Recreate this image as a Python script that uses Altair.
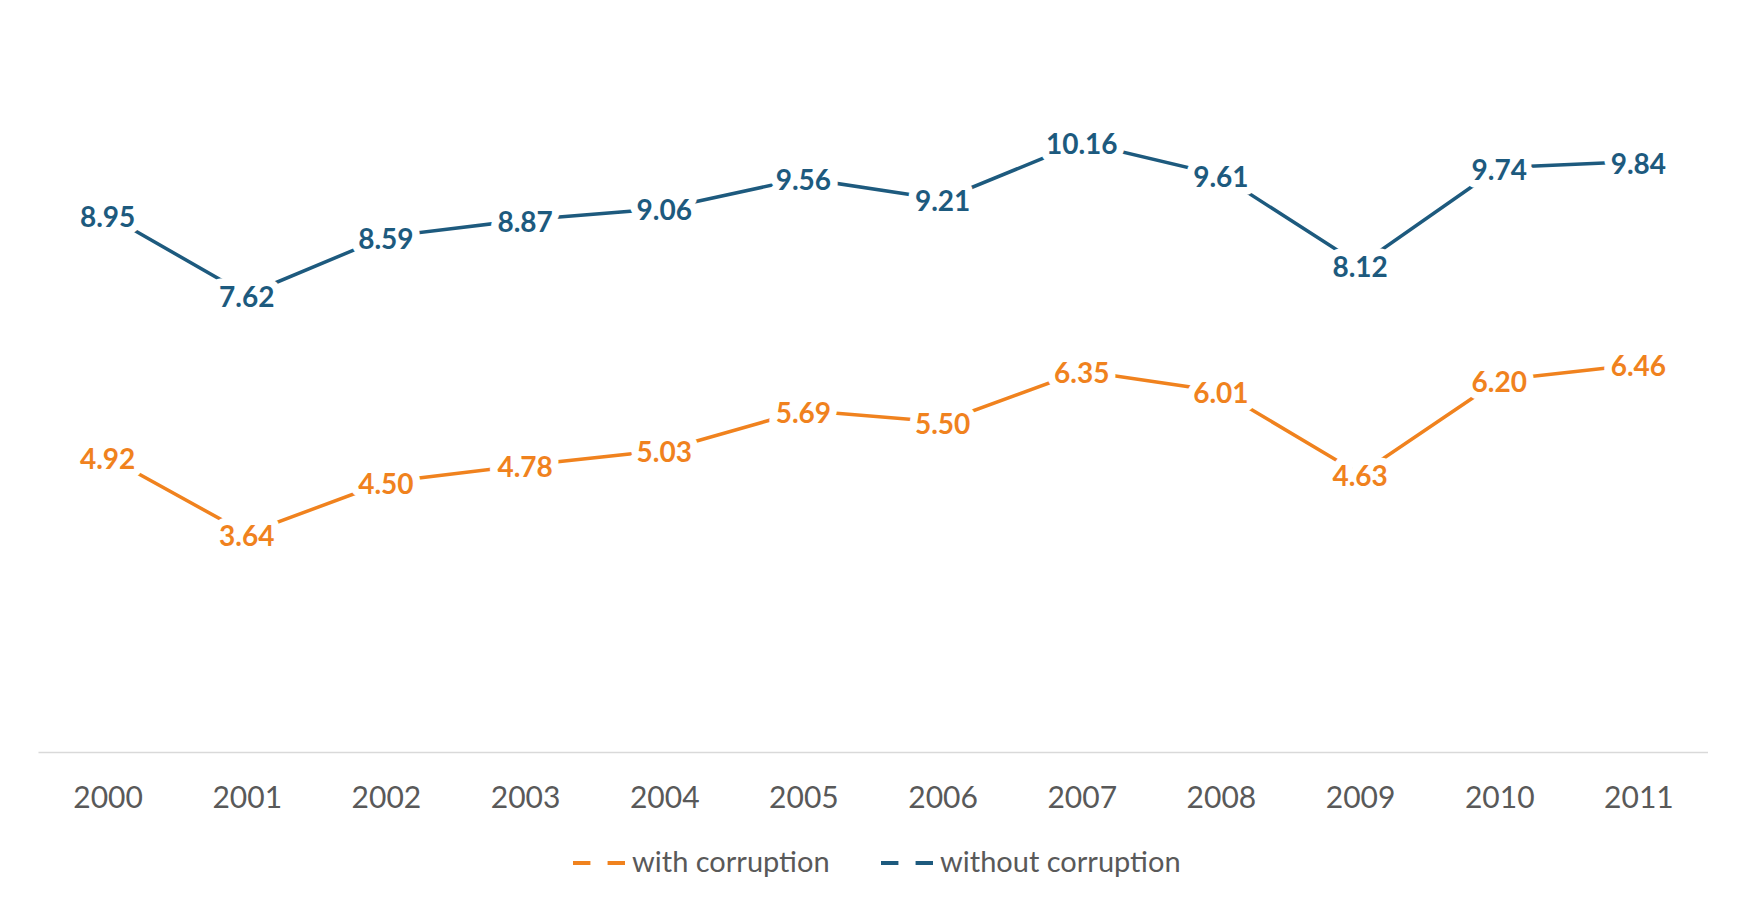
import altair as alt
import pandas as pd

years = ["2000", "2001", "2002", "2003", "2004", "2005",
         "2006", "2007", "2008", "2009", "2010", "2011"]
with_corruption = [4.92, 3.64, 4.50, 4.78, 5.03, 5.69, 5.50, 6.35, 6.01, 4.63, 6.20, 6.46]
without_corruption = [8.95, 7.62, 8.59, 8.87, 9.06, 9.56, 9.21, 10.16, 9.61, 8.12, 9.74, 9.84]
series_names = ["with corruption", "without corruption"]
series_colors = ["#F0821E", "#1D5A7E"]

rows = []
for yr, a, b in zip(years, with_corruption, without_corruption):
    rows.append({"year": yr, "series": series_names[0], "value": a})
    rows.append({"year": yr, "series": series_names[1], "value": b})
df = pd.DataFrame(rows)

FONT = "Lato"

x_enc = alt.X(
    "year:O",
    sort=years,
    scale=alt.Scale(type="point", padding=0.5),
    axis=alt.Axis(
        title=None, labelAngle=0, ticks=False, grid=False,
        domainColor="#D9D9D9", domainWidth=1.5,
        labelFont=FONT, labelFontSize=30, labelColor="#595959",
        labelPadding=46, labelBaseline="middle",
    ),
)
y_enc = alt.Y("value:Q", scale=alt.Scale(domain=[0, 12]), axis=None)

color_scale = alt.Scale(domain=series_names, range=series_colors)

lines = alt.Chart(df).mark_line(strokeWidth=3.5).encode(
    x=x_enc,
    y=y_enc,
    color=alt.Color(
        "series:N",
        scale=color_scale,
        legend=alt.Legend(
            title=None, orient="none", direction="horizontal",
            legendX=533, legendY=803,
            symbolType="M-1,0H-0.33M0.33,0H1", symbolSize=2704,
            symbolStrokeWidth=4, labelFont=FONT, labelFontSize=29,
            labelColor="#595959", labelOffset=5, columnPadding=43,
            labelLimit=500,
        ),
    ),
)

halo = alt.Chart(df).mark_text(
    font=FONT, fontWeight="bold", fontSize=28, dy=4,
    fill="white", stroke="white", strokeWidth=15, strokeJoin="round",
).encode(
    x=x_enc, y=y_enc,
    text=alt.Text("value:Q", format=".2f"),
)

labels = alt.Chart(df).mark_text(
    font=FONT, fontWeight="bold", fontSize=28, dy=4,
).encode(
    x=x_enc, y=y_enc,
    text=alt.Text("value:Q", format=".2f"),
    color=alt.Color("series:N", scale=color_scale, legend=None),
)

chart = alt.layer(lines, halo, labels).properties(
    width=1670, height=720,
    padding={"left": 30, "top": 24, "right": 0, "bottom": 0},
    background="white",
).configure_view(strokeWidth=0)

chart.save("out.html", embed_options={"renderer": "svg", "actions": False})
